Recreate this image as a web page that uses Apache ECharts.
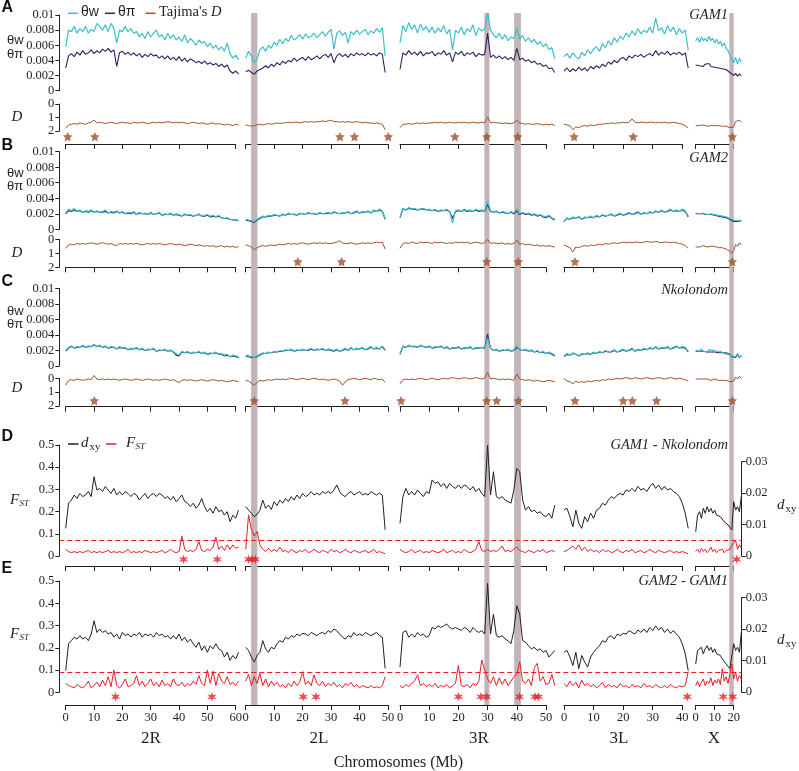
<!DOCTYPE html>
<html><head><meta charset="utf-8">
<script src="https://cdn.jsdelivr.net/npm/echarts@6/dist/echarts.min.js"></script>
<style>html,body{margin:0;padding:0;background:#fff}#chart{width:799px;height:771px}</style>
</head><body><div id="chart"></div>
<script>
// ---------------- DATA ----------------
const STEP = 1; // window spacing (Mb)
const chroms = ['2R','2L','3R','3L','X'];
const chromLastTick = [60,50,50,40,20];
const xTickStep = 10;

// Panel A: GAM1 (theta values in units of 1e-3)
const A_tw_2R=[5.8,8.0,7.8,8.5,7.6,8.2,7.8,8.5,7.6,8.1,7.8,8.9,8.5,8.0,8.7,7.8,8.9,8.2,6.3,8.0,7.8,8.5,7.8,8.2,7.6,7.8,7.1,7.6,6.9,7.8,7.1,7.6,8.0,7.1,7.4,6.7,7.6,6.9,7.4,6.7,7.1,6.5,7.4,6.3,6.9,6.5,6.0,6.7,6.3,6.5,5.8,6.3,5.6,6.0,5.4,5.8,5.2,6.3,4.9,4.3,4.7,4.1];
const A_tp_2R=[3.0,4.6,4.9,4.5,5.1,4.7,5.3,4.8,5.0,5.4,4.9,5.3,5.0,5.5,5.2,5.6,5.1,5.4,3.2,5.0,5.2,4.8,5.1,4.7,5.0,4.6,4.9,4.4,4.8,4.5,4.9,4.6,4.7,4.3,4.6,4.2,4.6,4.1,4.4,4.0,4.5,3.9,4.3,3.8,4.2,4.0,3.7,3.9,3.6,3.9,3.5,3.7,3.4,3.6,3.2,3.5,3.1,3.4,2.6,2.3,2.6,2.2];
const A_D_2R=[1.8,1.55,1.5,1.45,1.5,1.4,1.45,1.5,1.4,1.35,1.2,1.4,1.35,1.4,1.45,1.4,1.35,1.4,1.45,1.4,1.35,1.4,1.4,1.45,1.35,1.4,1.4,1.35,1.4,1.45,1.4,1.35,1.4,1.35,1.4,1.35,1.3,1.35,1.4,1.35,1.4,1.35,1.4,1.45,1.4,1.35,1.4,1.45,1.4,1.45,1.5,1.45,1.4,1.5,1.45,1.5,1.55,1.5,1.55,1.6,1.5,1.55];
const A_tw_2L=[4.3,5.2,4.6,3.7,4.2,5.4,5.8,5.2,6.0,5.6,6.4,6.0,6.8,6.2,6.9,6.5,7.3,6.7,7.0,7.4,6.8,7.5,7.0,7.2,7.6,7.0,7.4,7.8,7.2,7.7,8.1,5.5,7.6,7.9,7.3,7.7,6.3,7.8,7.4,8.0,7.5,7.8,8.1,7.4,7.9,7.6,8.2,7.7,8.3,4.6];
const A_tp_2L=[2.5,2.7,2.4,2.2,2.6,2.8,3.0,3.3,3.0,3.5,3.2,3.7,3.4,3.9,3.6,4.0,3.8,4.3,3.9,4.2,4.4,4.0,4.5,4.1,4.3,4.6,4.2,4.6,4.8,4.4,4.9,3.7,4.6,4.9,4.5,4.8,4.4,4.9,4.6,5.0,4.7,4.9,4.6,5.0,4.7,4.9,4.6,5.0,4.8,2.4];
const A_D_2L=[1.55,1.6,1.65,1.6,1.55,1.5,1.55,1.5,1.45,1.5,1.45,1.4,1.45,1.4,1.4,1.35,1.4,1.35,1.35,1.4,1.35,1.3,1.35,1.3,1.35,1.3,1.3,1.25,1.3,1.25,1.2,1.3,1.3,1.35,1.3,1.35,1.3,1.35,1.35,1.3,1.35,1.4,1.35,1.4,1.4,1.45,1.4,1.45,1.5,1.9];
const A_tw_3R=[6.3,8.6,7.8,9.0,8.1,8.7,7.6,8.8,8.0,8.5,7.7,8.4,7.6,8.3,7.8,8.6,7.5,8.1,5.4,8.0,7.6,8.4,7.4,8.2,7.8,8.7,7.3,8.3,7.9,8.1,10.3,8.0,7.4,7.0,7.6,6.8,7.4,6.6,7.1,6.9,8.3,6.8,7.3,6.5,7.0,6.4,6.8,6.1,6.5,5.8,6.2,5.4,5.7,4.2];
const A_tp_3R=[2.8,5.0,4.7,5.3,4.8,5.1,4.7,5.2,4.6,5.0,4.9,5.2,4.6,5.0,4.8,5.3,4.7,5.0,3.8,5.1,4.8,5.2,4.6,5.0,4.8,5.1,4.5,4.9,4.7,4.8,7.6,4.4,4.7,4.3,4.6,4.2,4.5,4.1,4.4,4.0,5.6,4.1,4.3,3.9,4.1,3.7,3.9,3.5,3.6,3.2,3.4,2.9,3.0,2.4];
const A_D_3R=[1.75,1.5,1.5,1.45,1.5,1.45,1.4,1.45,1.4,1.45,1.4,1.4,1.35,1.4,1.35,1.4,1.4,1.35,1.4,1.4,1.35,1.4,1.35,1.4,1.4,1.35,1.4,1.4,1.35,1.4,0.95,1.4,1.35,1.4,1.4,1.45,1.4,1.45,1.45,1.4,1.2,1.4,1.45,1.5,1.45,1.5,1.5,1.45,1.5,1.55,1.5,1.55,1.5,1.6];
const A_tw_3L=[4.5,4.9,4.3,5.0,4.5,4.2,5.1,4.6,5.4,4.9,5.5,5.8,5.2,6.2,5.7,6.6,6.0,7.0,6.4,7.2,6.8,7.6,7.1,7.9,7.3,8.2,7.5,8.0,7.7,8.4,7.6,9.6,7.9,8.3,7.5,8.6,7.8,8.4,7.4,8.2,7.6,8.0,5.4];
const A_tp_3L=[2.6,3.0,2.5,2.9,2.6,3.1,2.7,3.0,2.6,3.2,2.9,3.3,3.0,3.5,3.2,3.8,3.5,4.0,3.7,4.2,4.4,4.0,4.6,4.3,4.7,4.5,4.8,4.4,4.7,4.9,4.6,5.3,4.7,5.1,4.8,5.2,4.7,5.0,4.8,5.1,4.7,5.0,3.0];
const A_D_3L=[1.5,1.55,1.6,1.9,1.7,1.75,1.65,1.6,1.65,1.55,1.6,1.55,1.5,1.5,1.45,1.45,1.4,1.45,1.4,1.4,1.35,1.4,1.35,1.1,1.35,1.4,1.35,1.35,1.4,1.35,1.35,1.4,1.35,1.4,1.35,1.4,1.4,1.35,1.4,1.45,1.5,1.6,1.8];
const A_tw_X=[6.6,7.0,6.4,7.1,6.6,6.9,6.5,7.2,6.6,6.9,6.3,6.8,6.2,6.5,5.9,6.3,5.6,5.3,4.7,4.2,3.7,4.4,3.5,4.3,3.8];
const A_tp_X=[3.4,3.6,3.3,3.5,3.2,3.5,3.3,3.6,3.2,3.4,3.1,3.3,3.0,3.2,2.9,3.1,2.8,2.6,2.4,2.2,2.0,2.3,1.9,2.2,2.0];
const A_D_X=[1.6,1.55,1.6,1.6,1.55,1.6,1.65,1.6,1.6,1.65,1.6,1.65,1.6,1.65,1.65,1.7,1.65,1.7,1.75,1.85,1.7,1.3,1.4,1.2,1.35];

// Panel B: GAM2
const B_tw_2R=[2.1,2.6,2.4,2.7,2.3,2.5,2.2,2.4,2.3,2.5,2.2,2.4,2.2,2.3,2.5,2.1,2.3,2.2,2.4,2.1,2.3,2.0,2.2,2.1,2.3,1.9,2.2,2.0,2.1,1.9,2.2,1.9,2.0,2.2,1.8,2.0,1.9,2.1,1.8,2.0,1.9,1.7,2.0,1.8,1.9,1.7,1.8,2.0,1.7,1.8,1.9,1.7,1.8,1.6,1.8,1.5,1.4,1.5,1.3,1.2,1.3,1.1];
const B_tp_2R=[2.0,2.4,2.3,2.5,2.3,2.4,2.2,2.3,2.2,2.4,2.2,2.3,2.2,2.2,2.3,2.1,2.2,2.1,2.3,2.1,2.2,2.0,2.1,2.0,2.2,1.9,2.1,2.0,2.0,1.9,2.1,1.9,2.0,2.1,1.8,1.9,1.9,2.0,1.8,1.9,1.8,1.7,1.9,1.8,1.8,1.7,1.8,1.9,1.7,1.7,1.8,1.6,1.7,1.6,1.7,1.5,1.4,1.4,1.3,1.2,1.2,1.1];
const B_D_2R=[0.65,0.4,0.35,0.4,0.3,0.35,0.3,0.35,0.3,0.25,0.3,0.35,0.3,0.25,0.3,0.35,0.3,0.4,0.45,0.3,0.35,0.3,0.35,0.3,0.35,0.3,0.35,0.4,0.35,0.3,0.35,0.3,0.35,0.3,0.35,0.4,0.35,0.3,0.35,0.4,0.35,0.4,0.45,0.4,0.35,0.4,0.45,0.4,0.45,0.5,0.45,0.5,0.45,0.55,0.5,0.45,0.55,0.5,0.55,0.5,0.6,0.5];
const B_tw_2L=[1.3,1.2,1.1,1.0,1.3,1.5,1.7,1.6,1.8,1.7,1.9,1.8,1.7,2.0,1.8,2.1,1.9,2.0,1.8,2.1,2.0,1.9,2.2,2.0,2.1,1.9,2.2,2.0,2.1,2.2,2.0,2.3,2.1,2.0,2.2,2.1,2.3,2.0,2.2,2.4,2.1,2.3,2.2,2.4,2.1,2.5,2.3,2.6,2.4,1.4];
const B_tp_2L=[1.2,1.1,1.0,0.9,1.2,1.4,1.6,1.6,1.7,1.7,1.8,1.8,1.7,1.9,1.8,2.0,1.9,1.9,1.8,2.0,2.0,1.9,2.1,2.0,2.0,1.9,2.1,2.0,2.0,2.1,2.0,2.2,2.1,2.0,2.1,2.1,2.2,2.0,2.1,2.3,2.1,2.2,2.2,2.3,2.1,2.4,2.3,2.5,2.3,1.3];
const B_D_2L=[0.4,0.45,0.55,0.75,0.6,0.5,0.45,0.5,0.45,0.4,0.45,0.4,0.35,0.4,0.35,0.3,0.35,0.3,0.35,0.3,0.25,0.3,0.35,0.3,0.25,0.3,0.25,0.3,0.25,0.3,0.3,0.25,0.2,0.1,0.25,0.3,0.3,0.25,0.3,0.35,0.3,0.25,0.3,0.25,0.3,0.25,0.2,0.25,0.2,0.7];
const B_tw_3R=[1.6,2.7,2.5,2.8,2.6,2.7,2.5,2.6,2.7,2.5,2.6,2.4,2.6,2.3,2.5,2.4,2.6,2.3,0.8,2.4,2.5,2.3,2.6,2.4,2.5,2.3,2.6,2.4,2.5,2.3,3.6,2.4,2.2,2.4,2.1,2.3,2.2,2.0,2.3,2.1,2.6,2.0,2.2,2.0,2.1,1.9,2.0,1.8,1.9,1.7,1.6,1.8,1.5,1.3];
const B_tp_3R=[1.5,2.6,2.5,2.7,2.6,2.6,2.5,2.6,2.6,2.5,2.5,2.4,2.5,2.3,2.4,2.4,2.5,2.3,1.4,2.3,2.4,2.3,2.5,2.3,2.4,2.3,2.5,2.3,2.4,2.3,3.2,2.3,2.2,2.3,2.1,2.2,2.1,2.0,2.2,2.0,2.4,1.9,2.1,1.9,2.0,1.8,1.9,1.7,1.8,1.6,1.5,1.7,1.4,1.2];
const B_D_3R=[0.65,0.3,0.25,0.3,0.2,0.25,0.3,0.2,0.25,0.2,0.25,0.3,0.2,0.25,0.2,0.25,0.3,0.25,0.3,0.2,0.25,0.2,0.25,0.2,0.3,0.25,0.2,0.25,0.3,0.25,0.0,0.3,0.25,0.3,0.3,0.25,0.35,0.3,0.35,0.3,0.05,0.35,0.3,0.4,0.35,0.4,0.45,0.4,0.5,0.45,0.5,0.45,0.5,0.55];
const B_tw_3L=[1.0,1.5,1.3,1.6,1.4,1.7,1.3,1.6,1.5,1.7,1.5,1.8,1.6,1.9,1.7,1.8,2.0,1.7,1.9,2.1,1.8,2.0,2.2,1.9,2.1,2.3,1.9,2.2,2.0,2.3,2.1,2.4,2.2,2.5,2.2,2.4,2.6,2.3,2.5,2.3,2.6,2.4,1.7];
const B_tp_3L=[1.0,1.4,1.3,1.5,1.4,1.6,1.3,1.5,1.5,1.6,1.5,1.7,1.6,1.8,1.7,1.8,1.9,1.7,1.8,2.0,1.8,1.9,2.1,1.9,2.0,2.2,1.9,2.1,2.0,2.2,2.1,2.3,2.2,2.4,2.2,2.3,2.5,2.3,2.4,2.3,2.5,2.3,1.6];
const B_D_3L=[0.4,0.5,0.6,0.9,0.55,0.6,0.5,0.45,0.5,0.4,0.45,0.4,0.35,0.4,0.3,0.35,0.3,0.25,0.3,0.25,0.2,0.25,0.2,0.25,0.2,0.2,0.25,0.2,0.15,0.2,0.2,0.15,0.2,0.25,0.2,0.2,0.25,0.2,0.25,0.3,0.35,0.45,0.65];
const B_tw_X=[2.1,2.3,2.0,2.2,2.1,2.3,1.9,2.1,2.0,2.2,1.9,2.0,1.8,1.9,1.7,1.8,1.6,1.5,1.4,1.3,1.2,1.4,1.1,1.3,1.2];
const B_tp_X=[2.0,2.2,2.0,2.1,2.0,2.2,1.9,2.0,1.9,2.1,1.8,1.9,1.7,1.8,1.6,1.7,1.5,1.4,1.3,1.1,1.0,1.2,1.0,1.1,1.1];
const B_D_X=[0.55,0.5,0.55,0.5,0.45,0.5,0.55,0.5,0.5,0.55,0.5,0.55,0.6,0.55,0.6,0.65,0.7,0.75,0.85,1.0,0.8,0.35,0.5,0.25,0.4];

// Panel C: Nkolondom
const C_tw_2R=[2.0,2.4,2.6,2.3,2.5,2.4,2.7,2.4,2.6,2.5,2.8,2.5,2.7,2.4,2.6,2.3,2.5,2.4,2.2,2.5,2.3,2.4,2.1,2.3,2.2,2.4,2.1,2.3,2.0,2.2,2.1,2.3,1.9,2.1,2.0,2.2,1.9,2.1,1.8,1.6,1.4,1.9,1.7,1.9,1.6,1.8,1.7,1.9,1.6,1.8,1.5,1.7,1.6,1.8,1.5,1.6,1.4,1.5,1.2,1.4,1.3,1.2];
const C_tp_2R=[1.9,2.3,2.5,2.3,2.4,2.4,2.6,2.4,2.5,2.5,2.7,2.5,2.6,2.4,2.5,2.3,2.4,2.4,2.2,2.4,2.3,2.3,2.1,2.2,2.2,2.3,2.1,2.2,2.0,2.1,2.1,2.2,1.9,2.0,2.0,2.1,1.9,2.0,1.8,1.4,1.3,1.8,1.7,1.8,1.6,1.7,1.7,1.8,1.6,1.7,1.5,1.6,1.6,1.7,1.5,1.5,1.3,1.4,1.2,1.3,1.2,1.1];
const C_D_2R=[0.5,0.15,0.1,0.15,0.05,0.1,0.15,0.1,0.05,0.1,-0.2,0.05,0.1,0.05,0.1,0.05,0.1,0.05,0.1,0.15,0.1,0.05,0.1,0.15,0.1,0.05,0.1,0.15,0.1,0.05,0.1,0.15,0.1,0.15,0.1,0.05,0.1,0.15,0.1,0.2,0.3,0.15,0.1,0.15,0.1,0.15,0.2,0.15,0.1,0.15,0.2,0.15,0.1,0.15,0.2,0.15,0.2,0.25,0.2,0.15,0.2,0.25];
const C_tw_2L=[1.4,1.3,1.2,1.1,1.3,1.5,1.7,1.6,1.8,1.7,1.9,1.8,2.0,1.9,2.1,2.0,2.2,1.9,2.1,2.0,2.2,2.0,2.1,2.3,2.0,2.2,2.1,2.3,2.0,2.2,2.1,2.0,2.2,1.9,2.1,2.3,2.0,2.4,2.1,2.3,2.2,2.4,2.1,2.3,2.5,2.2,2.4,2.2,2.6,2.1];
const C_tp_2L=[1.3,1.2,1.1,1.1,1.2,1.4,1.6,1.6,1.7,1.7,1.8,1.8,1.9,1.9,2.0,2.0,2.1,1.9,2.0,2.0,2.1,2.0,2.0,2.2,2.0,2.1,2.1,2.2,2.0,2.1,2.0,1.9,2.1,1.9,2.0,2.2,2.0,2.3,2.1,2.2,2.2,2.3,2.1,2.2,2.4,2.2,2.3,2.2,2.5,2.0];
const C_D_2L=[0.15,0.2,0.35,0.5,0.3,0.15,0.2,0.15,0.1,0.15,0.1,0.05,0.1,0.05,0.1,0.05,0.0,0.05,0.1,0.05,0.0,0.05,0.1,0.05,0.0,0.05,0.1,0.05,0.1,0.15,0.1,0.05,0.1,0.2,0.5,0.25,0.1,0.05,0.0,0.05,0.1,0.05,0.0,0.05,0.1,0.0,0.05,0.1,0.05,0.3];
const C_tw_3R=[1.6,2.6,2.4,2.7,2.5,2.6,2.4,2.7,2.5,2.4,2.6,2.3,2.5,2.4,2.6,2.3,2.5,2.2,2.4,2.3,2.5,2.2,2.4,2.3,2.5,2.2,2.4,2.3,2.4,2.3,3.6,2.3,2.0,2.2,1.9,2.1,2.0,2.2,1.9,2.1,2.6,2.1,2.0,2.2,1.9,2.1,1.8,2.0,1.7,1.9,1.6,1.8,1.6,1.4];
const C_tp_3R=[1.5,2.5,2.4,2.6,2.5,2.5,2.4,2.6,2.5,2.4,2.5,2.3,2.4,2.4,2.5,2.3,2.4,2.2,2.3,2.3,2.4,2.2,2.3,2.3,2.4,2.2,2.3,2.3,2.4,2.3,4.1,2.3,2.0,2.1,1.9,2.0,2.0,2.1,1.9,2.0,2.4,2.1,2.0,2.1,1.9,2.0,1.8,1.9,1.7,1.8,1.6,1.7,1.5,1.3];
const C_D_3R=[0.4,0.1,0.05,0.1,0.05,0.1,0.05,0.0,0.05,0.1,0.05,0.0,0.05,0.1,0.05,0.0,0.05,0.0,-0.05,0.0,0.05,0.0,-0.05,0.0,0.05,0.0,-0.05,0.0,0.05,0.0,-0.45,0.05,0.0,0.05,0.1,0.05,0.1,0.05,0.1,0.15,-0.3,0.05,0.1,0.15,0.1,0.15,0.2,0.15,0.2,0.25,0.2,0.15,0.2,0.25];
const C_tw_3L=[1.3,1.6,1.4,1.7,1.5,1.3,1.6,1.5,1.7,1.5,1.8,1.6,1.9,1.7,2.0,1.8,1.9,2.1,1.8,2.0,2.2,1.9,2.1,2.3,1.9,2.2,2.0,2.3,2.1,2.4,2.2,2.5,2.2,2.4,2.3,2.5,2.2,2.4,2.6,2.3,2.5,2.4,1.9];
const C_tp_3L=[1.2,1.5,1.4,1.6,1.5,1.3,1.5,1.5,1.6,1.5,1.7,1.6,1.8,1.7,1.9,1.8,1.8,2.0,1.8,1.9,2.1,1.9,2.0,2.2,1.9,2.1,2.0,2.2,2.1,2.3,2.2,2.4,2.2,2.3,2.3,2.4,2.2,2.3,2.5,2.3,2.4,2.3,1.8];
const C_D_3L=[0.0,0.2,0.25,0.4,0.2,0.3,0.25,0.3,0.2,0.25,0.2,0.15,0.2,0.1,0.15,0.05,0.1,0.05,0.0,0.05,0.0,-0.05,0.0,0.05,-0.05,0.0,0.05,0.0,-0.05,0.0,0.05,0.0,-0.05,0.0,0.05,0.0,-0.05,0.0,0.05,0.0,0.05,0.1,0.2];
const C_tw_X=[2.0,2.1,1.9,2.2,1.9,2.0,1.8,2.1,1.9,2.0,1.8,1.9,1.7,1.9,1.8,1.6,1.8,1.5,1.6,1.3,1.5,1.2,1.6,1.1,1.4];
const C_tp_X=[1.9,2.0,1.9,2.1,1.9,1.9,1.8,2.0,1.8,1.9,1.8,1.8,1.7,1.8,1.7,1.6,1.7,1.5,1.5,1.2,1.4,1.1,1.5,1.1,1.3];
const C_D_X=[0.05,0.1,0.05,0.1,0.05,0.1,0.05,0.1,0.15,0.1,0.05,0.1,0.15,0.1,0.15,0.2,0.15,0.2,0.25,0.35,0.2,-0.1,0.05,-0.15,0.0];

// Panel D: GAM1 - Nkolondom (dxy in units of 1e-3)
const D_dxy_2R=[8.8,16.8,17.8,19.4,18.3,19.9,18.9,19.4,20.5,18.9,25.2,21.0,21.5,20.5,22.1,21.0,19.9,21.5,19.4,20.5,19.4,20.5,19.9,18.9,19.9,19.4,17.8,18.9,19.9,18.3,19.4,19.9,18.9,19.9,19.4,18.3,18.9,17.8,18.9,17.3,18.3,19.4,17.3,16.8,15.7,16.8,15.2,16.2,18.3,15.7,14.1,15.2,13.6,15.7,14.1,14.6,13.0,14.1,10.9,13.0,12.0,14.6];
const D_fst_2R=[0.03,0.02,0.015,0.02,0.015,0.02,0.015,0.02,0.025,0.015,0.02,0.015,0.02,0.015,0.02,0.025,0.015,0.02,0.015,0.02,0.015,0.02,0.03,0.015,0.02,0.015,0.02,0.015,0.025,0.02,0.015,0.02,0.015,0.02,0.025,0.015,0.02,0.03,0.02,0.015,0.02,0.09,0.03,0.02,0.025,0.02,0.03,0.065,0.025,0.02,0.03,0.025,0.04,0.085,0.03,0.045,0.025,0.05,0.03,0.05,0.035,0.04];
const D_dxy_2L=[15.7,14.6,13.6,12.5,13.2,14.6,17.8,15.2,16.2,14.8,17.3,16.0,17.8,16.8,18.3,17.3,18.9,17.8,19.4,18.3,19.9,18.9,19.4,20.5,19.4,20.0,19.4,20.5,19.9,20.5,19.9,21.0,22.6,20.5,19.4,18.9,19.9,20.5,19.4,19.9,20.5,19.4,19.9,19.4,20.5,19.9,19.4,20.0,19.4,8.3];
const D_fst_2L=[0.03,0.185,0.12,0.09,0.11,0.05,0.03,0.02,0.035,0.02,0.03,0.02,0.04,0.02,0.025,0.015,0.03,0.02,0.015,0.025,0.02,0.03,0.015,0.02,0.03,0.02,0.015,0.025,0.02,0.015,0.03,0.02,0.025,0.015,0.02,0.03,0.02,0.015,0.025,0.02,0.015,0.02,0.025,0.015,0.02,0.03,0.015,0.02,0.015,0.01];
const D_dxy_3R=[10.4,18.9,21.5,19.4,20.5,19.4,21.0,19.9,18.9,20.5,19.9,24.2,23.1,23.6,22.1,23.1,21.5,23.1,22.1,21.5,22.6,21.5,22.6,22.1,21.0,22.1,20.5,21.5,19.9,18.9,35.3,19.4,26.8,18.9,18.3,18.9,17.8,17.3,16.8,21.0,27.9,26.8,17.8,14.6,15.7,14.1,14.6,13.6,14.1,13.0,12.5,13.6,12.0,16.2];
const D_fst_3R=[0.03,0.02,0.015,0.02,0.03,0.015,0.02,0.025,0.015,0.02,0.015,0.025,0.02,0.015,0.02,0.03,0.015,0.02,0.025,0.015,0.02,0.015,0.03,0.02,0.015,0.02,0.03,0.065,0.025,0.02,0.03,0.02,0.025,0.02,0.03,0.045,0.02,0.025,0.02,0.03,0.04,0.025,0.02,0.015,0.025,0.02,0.015,0.025,0.02,0.03,0.015,0.02,0.025,0.02];
const D_dxy_3L=[14.6,15.2,12.5,9.3,14.6,10.4,8.8,12.5,10.9,13.6,12.0,14.6,15.2,16.8,16.2,17.8,18.9,18.3,19.4,19.9,19.4,21.0,20.5,21.5,20.5,22.1,21.0,21.5,20.5,22.1,23.1,21.5,22.6,21.0,22.1,21.0,21.5,20.5,19.9,18.9,16.8,13.6,8.8];
const D_fst_3L=[0.02,0.025,0.035,0.045,0.03,0.05,0.025,0.04,0.02,0.03,0.02,0.025,0.015,0.03,0.02,0.025,0.015,0.02,0.03,0.02,0.015,0.025,0.02,0.03,0.015,0.02,0.025,0.015,0.02,0.03,0.02,0.015,0.025,0.02,0.015,0.02,0.025,0.015,0.02,0.015,0.02,0.015,0.01];
const D_dxy_X=[7.7,13.0,14.1,12.0,15.2,13.6,15.7,14.1,15.2,13.6,14.6,13.0,13.6,12.5,12.0,10.9,11.4,9.9,9.3,8.3,17.3,14.6,15.7,14.1,18.9];
const D_fst_X=[0.02,0.03,0.015,0.035,0.02,0.03,0.015,0.025,0.04,0.02,0.03,0.015,0.025,0.02,0.03,0.015,0.025,0.02,0.03,0.035,0.06,0.07,0.03,0.05,0.035];

// Panel E: GAM2 - GAM1
const E_dxy_2R=[6.8,15.3,16.3,17.4,16.8,17.9,16.8,17.4,16.3,18.4,22.6,18.9,20.0,18.9,19.5,18.4,18.9,17.4,18.4,16.8,18.9,17.9,18.4,17.4,18.4,17.9,18.9,17.4,18.4,17.9,18.4,17.4,18.9,17.9,18.4,17.4,17.9,16.8,17.9,16.8,18.4,16.3,17.4,15.8,16.8,15.3,14.2,15.8,13.2,14.7,12.6,14.7,13.7,15.3,13.7,13.2,11.1,12.6,10.0,11.6,10.5,12.6];
const E_fst_2R=[0.04,0.03,0.025,0.02,0.035,0.025,0.02,0.03,0.05,0.02,0.03,0.045,0.025,0.055,0.03,0.07,0.025,0.1,0.03,0.02,0.035,0.06,0.025,0.03,0.04,0.075,0.03,0.05,0.025,0.04,0.06,0.03,0.045,0.025,0.055,0.03,0.04,0.025,0.06,0.035,0.03,0.045,0.025,0.04,0.03,0.05,0.035,0.075,0.04,0.03,0.1,0.04,0.095,0.03,0.085,0.05,0.04,0.07,0.035,0.045,0.03,0.05];
const E_dxy_2L=[14.2,13.2,11.1,9.5,11.6,12.6,16.3,13.7,12.6,14.2,13.7,15.3,16.3,15.8,17.4,16.8,17.9,17.4,18.4,17.9,18.6,18.4,17.9,18.9,18.4,17.9,18.6,18.9,18.4,19.5,18.9,20.0,19.5,18.4,17.4,16.8,17.9,17.4,18.9,17.9,18.4,17.9,18.9,18.4,17.9,18.4,18.9,17.9,17.4,7.5];
const E_fst_2L=[0.05,0.08,0.03,0.07,0.04,0.085,0.03,0.06,0.025,0.05,0.03,0.045,0.025,0.035,0.02,0.04,0.025,0.05,0.03,0.045,0.093,0.035,0.05,0.03,0.078,0.04,0.03,0.05,0.025,0.04,0.03,0.045,0.025,0.035,0.02,0.04,0.03,0.045,0.025,0.035,0.02,0.03,0.025,0.02,0.03,0.02,0.025,0.02,0.03,0.07];
const E_dxy_3R=[7.9,18.9,19.5,17.4,18.4,17.4,18.9,17.9,18.4,17.4,17.9,20.5,20.0,21.0,20.5,21.0,21.6,20.5,20.0,20.5,20.0,19.5,20.5,20.0,18.9,20.5,19.5,18.9,19.5,18.4,34.5,18.4,24.7,17.9,17.4,17.9,16.8,16.3,15.3,19.5,27.4,24.7,16.3,15.8,14.7,13.7,14.2,13.2,13.7,12.6,13.2,11.1,12.1,13.2];
const E_fst_3R=[0.03,0.02,0.035,0.025,0.04,0.05,0.078,0.03,0.04,0.025,0.035,0.025,0.04,0.02,0.03,0.025,0.035,0.02,0.03,0.04,0.12,0.03,0.025,0.035,0.02,0.04,0.03,0.05,0.145,0.1,0.06,0.04,0.07,0.03,0.065,0.035,0.06,0.03,0.05,0.07,0.08,0.137,0.05,0.04,0.06,0.03,0.11,0.13,0.05,0.07,0.035,0.04,0.08,0.03];
const E_dxy_3L=[12.6,13.2,11.1,8.4,12.6,7.4,11.6,9.5,7.9,11.1,12.6,13.7,14.7,16.3,15.8,17.4,17.9,16.8,18.4,17.9,18.6,18.4,19.5,18.9,18.4,19.7,18.9,20.0,18.9,20.5,19.5,21.0,19.7,20.5,18.9,20.0,18.6,19.5,18.4,17.4,15.3,12.1,6.8];
const E_fst_3L=[0.04,0.025,0.05,0.03,0.045,0.02,0.055,0.03,0.04,0.025,0.035,0.02,0.03,0.045,0.02,0.035,0.025,0.03,0.02,0.04,0.025,0.03,0.02,0.035,0.025,0.03,0.02,0.04,0.025,0.03,0.02,0.035,0.025,0.02,0.03,0.02,0.035,0.025,0.02,0.03,0.025,0.03,0.093];
const E_dxy_X=[8.9,13.2,12.6,14.2,12.1,13.7,14.7,13.2,14.2,12.6,13.7,12.1,12.6,11.6,10.5,10.0,8.9,8.4,7.4,6.8,15.3,13.2,14.2,12.6,18.9];
const E_fst_X=[0.03,0.05,0.025,0.045,0.06,0.03,0.05,0.04,0.065,0.03,0.055,0.04,0.06,0.035,0.105,0.05,0.07,0.04,0.08,0.127,0.06,0.09,0.05,0.075,0.06];

// Significant windows (star positions, Mb) per chromosome
const A_stars=[[0.7,10.3],[33.1,38.2,50.1],[18.8,29.7,40.3],[3.4,23.4],[19.3]];
const B_stars=[[],[18.3,33.7],[29.7,40.5],[3.7],[19.3]];
const C_stars=[[10.1],[3.0,34.9],[0.35,29.7,33.1,40.5],[3.7,20.0,23.1,31.3],[19.3]];
const D_stars=[[41.6,53.5],[1.0,2.2,3.4],[],[],[21.6]];
const E_stars=[[17.6,51.6],[20.2,24.7],[20.0,27.7,29.7,40.9,46.2,47.4],[41.7],[14.5,19.5]];

// FST significance thresholds
const D_threshold = 0.067;
const E_threshold = 0.088;

// Highlighted regions (Mb)
const bands_2R=[], bands_2L=[[1.9,4.1]], bands_3R=[[28.9,30.6],[39.1,41.4]], bands_3L=[], bands_X=[[17.7,20.3]];

// ---------------- LAYOUT ----------------
const chromPx=[[65.7,235.7],[245.7,388],[400,546],[564,682.3],[695.7,733.7]]; // pixel of 0 and of last tick
const INK='#231f20';
const SERIF='"Liberation Serif","Times New Roman",serif';
const SANS='"Liberation Sans",Arial,sans-serif';
const COL={tw:'#3ebfc9',tp:'#272464',D:'#a0522d',fst:'#ec1c24',dxy:'#231f20',band:'#c2b4b7'};
const STAR5='path://M0 -1 L0.294 -0.405 L0.951 -0.309 L0.476 0.155 L0.588 0.809 L0 0.5 L-0.588 0.809 L-0.476 0.155 L-0.951 -0.309 L-0.294 -0.405 Z';
const STAR6='path://M0 -1 L0.2 -0.346 L0.866 -0.5 L0.4 0 L0.866 0.5 L0.2 0.346 L0 1 L-0.2 0.346 L-0.866 0.5 L-0.4 0 L-0.866 -0.5 L-0.2 -0.346 Z';

const grids=[], xAxis=[], yAxis=[], series=[];
const pts = arr => arr.map((v,i)=>[i*STEP, v]);
const ppm = ci => (chromPx[ci][1]-chromPx[ci][0])/chromLastTick[ci];
const lastPos = [A_tw_2R,A_tw_2L,A_tw_3R,A_tw_3L,A_tw_X].map(a=>(a.length-1)*STEP);
const dataRight = ci => chromPx[ci][0] + lastPos[ci]*ppm(ci);

function addGrid(l, r, t, b, xo, yo){
  grids.push({left:l, top:t, width:r-l, height:b-t, containLabel:false, outerBoundsMode:'none'});
  const gi=grids.length-1;
  xAxis.push(Object.assign({type:'value', gridIndex:gi, show:false, splitLine:{show:false}}, xo));
  yAxis.push(Object.assign({type:'value', gridIndex:gi, show:false, splitLine:{show:false}}, yo));
  return gi;
}
// data grid spans the full data extent of a chromosome
function dataGrid(ci, t, b, yo){
  return addGrid(chromPx[ci][0], dataRight(ci), t, b, {min:0, max:lastPos[ci], show:false}, yo);
}
// axis-only grid spans 0 .. last tick
function axisGrid(ci, t, b, offset, labels){
  return addGrid(chromPx[ci][0], chromPx[ci][1], t, b,
    {min:0, max:chromLastTick[ci], interval:xTickStep, show:true, offset:offset,
     axisLine:{show:true, onZero:false, lineStyle:{color:INK, width:1}},
     axisTick:{show:true, length:5, lineStyle:{color:INK, width:1}},
     axisLabel:{show:labels, margin:6, fontFamily:SERIF, fontSize:12.5, color:INK}},
    {min:0, max:1, show:false});
}
function yLeft(min,max,interval,fmt,show,inverse){
  return {min:min, max:max, interval:interval, inverse:!!inverse, show:show, position:'left', offset:6.4,
    axisLine:{show:true, onZero:false, lineStyle:{color:INK,width:1}},
    axisTick:{show:true, length:4, lineStyle:{color:INK,width:1}},
    axisLabel:{margin:5, fontFamily:SERIF, fontSize:12.5, color:INK, formatter:fmt}};
}
const fmtTheta = v => v===0?'0':String(+(v/1000).toFixed(3));
const fmtD = v => String(v);
const fmtF = v => v===0?'0':String(+v.toFixed(1));
const fmtDxy = v => v===0?'0':String(+(v/1000).toFixed(2));

function line(gi, arr, color, z, w){
  series.push({type:'line', xAxisIndex:gi, yAxisIndex:gi, data:pts(arr), symbol:'none', showSymbol:false,
    clip:false, silent:true, lineStyle:{color:color, width:w||1}, itemStyle:{color:color}, z:z, animation:false});
}
function stars(gi, xs, y, color, sym, size){
  if(!xs.length) return;
  series.push({type:'scatter', xAxisIndex:gi, yAxisIndex:gi, data:xs.map(x=>[x,y]), symbol:sym, symbolSize:size,
    clip:false, silent:true, itemStyle:{color:color}, z:6, animation:false});
}

const thetaPanels=[
  {tw:[A_tw_2R,A_tw_2L,A_tw_3R,A_tw_3L,A_tw_X], tp:[A_tp_2R,A_tp_2L,A_tp_3R,A_tp_3L,A_tp_X], D:[A_D_2R,A_D_2L,A_D_3R,A_D_3L,A_D_X], st:A_stars, top:[15,90.7], dr:[104,131], xoff:13, sy:2.42},
  {tw:[B_tw_2R,B_tw_2L,B_tw_3R,B_tw_3L,B_tw_X], tp:[B_tp_2R,B_tp_2L,B_tp_3R,B_tp_3L,B_tp_X], D:[B_D_2R,B_D_2L,B_D_3R,B_D_3L,B_D_X], st:B_stars, top:[151.7,229.3], dr:[239.3,267.3], xoff:0, sy:1.6},
  {tw:[C_tw_2R,C_tw_2L,C_tw_3R,C_tw_3L,C_tw_X], tp:[C_tp_2R,C_tp_2L,C_tp_3R,C_tp_3L,C_tp_X], D:[C_D_2R,C_D_2L,C_D_3R,C_D_3L,C_D_X], st:C_stars, top:[288.3,366], dr:[378.3,406], xoff:0.7, sy:1.62}
];
const fstPanels=[
  {dxy:[D_dxy_2R,D_dxy_2L,D_dxy_3R,D_dxy_3L,D_dxy_X], fst:[D_fst_2R,D_fst_2L,D_fst_3R,D_fst_3L,D_fst_X], st:D_stars, fr:[445,556], xr:[461.7,556], xoff:10, sy:-0.015, labels:false, thr:D_threshold},
  {dxy:[E_dxy_2R,E_dxy_2L,E_dxy_3R,E_dxy_3L,E_dxy_X], fst:[E_fst_2R,E_fst_2L,E_fst_3R,E_fst_3L,E_fst_X], st:E_stars, fr:[581,692.3], xr:[597.5,692], xoff:12.7, sy:-0.02, labels:true, thr:E_threshold}
];
const bandsAll=[bands_2R,bands_2L,bands_3R,bands_3L,bands_X];

// highlighted band overlays (drawn underneath)
chroms.forEach((c,ci)=>{
  if(!bandsAll[ci].length) return;
  const gi=addGrid(chromPx[ci][0],chromPx[ci][1],13,705,{min:0,max:chromLastTick[ci]},{min:0,max:1});
  series.push({type:'line', xAxisIndex:gi, yAxisIndex:gi, data:[], silent:true, z:1, animation:false,
    markArea:{silent:true, itemStyle:{color:COL.band, opacity:1}, label:{show:false},
      data:bandsAll[ci].map(b=>[{xAxis:b[0]},{xAxis:b[1]}])}});
});

// Panels A-C
thetaPanels.forEach(p=>{
  chroms.forEach((c,ci)=>{
    const g1=dataGrid(ci,p.top[0],p.top[1], yLeft(0,10,2,fmtTheta,ci===0,false));
    line(g1,p.tp[ci],COL.tp,3,1.1);
    line(g1,p.tw[ci],COL.tw,4,1.2);
    axisGrid(ci,p.dr[0],p.dr[1],p.xoff,false);
    const g2=dataGrid(ci,p.dr[0],p.dr[1], yLeft(0,2,1,fmtD,ci===0,true));
    line(g2,p.D[ci],COL.D,3,1);
    stars(g2,p.st[ci],p.sy,COL.D,STAR5,9.5);
  });
});

// Panels D-E
fstPanels.forEach(p=>{
  const gt=addGrid(59.3,741.7,p.fr[0],p.fr[1],{min:0,max:1},{min:0,max:0.5});
  series.push({type:'line', xAxisIndex:gt, yAxisIndex:gt, data:[], silent:true, z:2, animation:false,
    markLine:{silent:true, symbol:['none','none'], label:{show:false},
      lineStyle:{color:COL.fst, type:[5,3], width:1}, data:[{yAxis:p.thr}]}});
  chroms.forEach((c,ci)=>{
    const gd=dataGrid(ci,p.xr[0],p.xr[1],
      ci===4 ? {min:0,max:30,interval:10,show:true,position:'right',offset:741.7-dataRight(ci),
        axisLine:{show:true,onZero:false,lineStyle:{color:INK,width:1}},
        axisTick:{show:true,length:4,lineStyle:{color:INK,width:1}},
        axisLabel:{margin:4,fontFamily:SERIF,fontSize:12.5,color:INK,formatter:fmtDxy}} : {min:0,max:30});
    line(gd,p.dxy[ci],COL.dxy,3,1);
    axisGrid(ci,p.fr[0],p.fr[1],p.xoff,p.labels);
    const gf=dataGrid(ci,p.fr[0],p.fr[1], yLeft(0,0.5,0.1,fmtF,ci===0,false));
    line(gf,p.fst[ci],COL.fst,4,1);
    stars(gf,p.st[ci],p.sy,COL.fst,STAR6,9.5);
  });
});

// ---------------- TEXT ----------------
const G=[];
function txt(x,y,text,font,align,color){
  G.push({type:'text', x:x, y:y, z:100, silent:true,
    style:{text:text, font:font, fill:color||INK, textAlign:align||'left', align:align||'left', textVerticalAlign:'middle', verticalAlign:'middle'}});
}
function seg(x1,x2,y,color){
  G.push({type:'line', z:100, silent:true, shape:{x1:x1,y1:y,x2:x2,y2:y}, style:{stroke:color, lineWidth:1.5}});
}
[['A',7.5],['B',145.5],['C',282],['D',437],['E',568.5]].forEach(([t,y])=>txt(1.5,y,t,'bold 16px '+SANS,'left','#111'));
[[40.5,54],[173.5,186.5],[311,324.5]].forEach(([a,b])=>{ txt(7,a,'θw','13px '+SANS); txt(7,b,'θπ','13px '+SANS); });
[117.5,253,388].forEach(y=>txt(17,y,'D','italic 15px '+SERIF,'center'));
[500,634].forEach(y=>{ txt(10,y,'F','italic 15px '+SERIF); txt(19.5,y+3.5,'ST','italic 9px '+SERIF); });
[505,640].forEach(y=>{ txt(777,y,'d','italic 15px '+SERIF); txt(785.5,y+4,'xy','11px '+SERIF); });
seg(68,78,13.3,COL.tw); txt(81,12.5,'θw','14px '+SANS);
seg(105,115,13.3,COL.tp); txt(118,12.5,'θπ','14px '+SANS);
seg(145.5,155.5,13.3,COL.D);
G.push({type:'text', x:159, y:12.5, z:100, silent:true, style:{text:"{n|Tajima's }{i|D}", fill:INK, textVerticalAlign:'middle', verticalAlign:'middle',
  rich:{n:{fontFamily:SERIF,fontSize:14.5,fill:INK,color:INK}, i:{fontFamily:SERIF,fontSize:14.5,fontStyle:'italic',fill:INK,color:INK}}}});
seg(68,78.5,444,COL.dxy); txt(81,443,'d','italic 15px '+SERIF); txt(89.5,447,'xy','11px '+SERIF);
seg(106,116.5,444,COL.fst); txt(126,443,'F','italic 15px '+SERIF); txt(135.5,446.5,'ST','italic 9px '+SERIF);
[['GAM1',15],['GAM2',158],['Nkolondom',290.5],['GAM1 - Nkolondom',445],['GAM2 - GAM1',581.5]].forEach(([t,y])=>txt(728,y,t,'italic 14.5px '+SERIF,'right'));
[['2R',151],['2L',319],['3R',479],['3L',619],['X',714]].forEach(([t,x])=>txt(x,739,t,'17px '+SERIF,'center'));
txt(398.5,763,'Chromosomes (Mb)','16px '+SERIF,'center');

const chart=echarts.init(document.getElementById('chart'),null,{renderer:'canvas'});
chart.setOption({animation:false, backgroundColor:'#ffffff', grid:grids, xAxis:xAxis, yAxis:yAxis, series:series, graphic:{elements:G}});
</script></body></html>
